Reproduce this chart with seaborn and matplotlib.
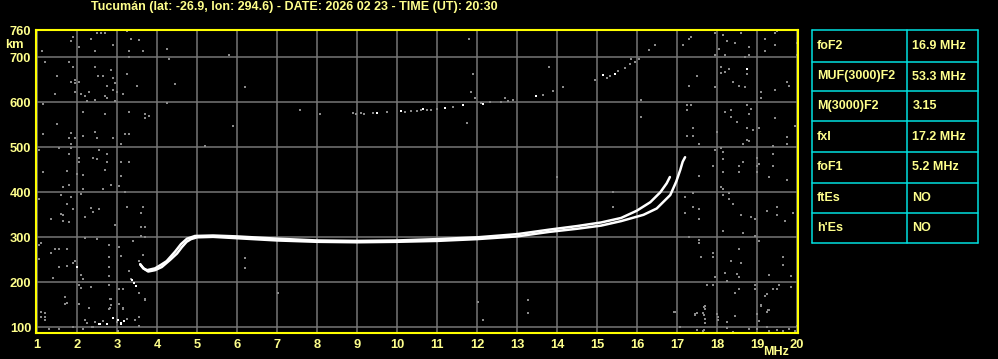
import matplotlib
matplotlib.use("Agg")
import matplotlib.pyplot as plt
import seaborn as sns
import pandas as pd

# ---------------- data ----------------
title = "Tucumán (lat: -26.9, lon: 294.6) - DATE: 2026 02 23 - TIME (UT): 20:30"
x_ticks = list(range(1, 21))
y_ticks = [100, 200, 300, 400, 500, 600, 700, 760]
grid_y = [100, 200, 300, 400, 500, 600, 700]

table_params = ["foF2", "MUF(3000)F2", "M(3000)F2", "fxI", "foF1", "ftEs", "h'Es"]
table_values = ["16.9 MHz", "53.3 MHz", "3.15", "17.2 MHz", "5.2 MHz", "NO", "NO"]

# ordinary trace
o_freq = [3.58, 3.66, 3.75, 3.95, 4.10, 4.24, 4.45, 4.60, 4.75, 4.95, 5.40, 6.00, 7.00, 8.00,
          9.00, 10.00, 11.00, 12.00, 13.00, 13.80, 14.50, 15.10, 15.60, 15.99, 16.33, 16.58,
          16.74, 16.82]
o_km = [240, 231, 227, 231, 239, 247, 268, 285, 297, 303, 304, 302, 297, 293,
        292, 293, 296, 300, 307, 317, 325, 333, 343, 359, 378, 400,
        420, 434]
# extraordinary trace
x_freq = [3.58, 3.66, 3.78, 3.95, 4.12, 4.33, 4.50, 4.62, 4.74, 4.85, 5.00, 5.40, 6.00, 7.00,
          8.00, 9.00, 10.00, 11.00, 12.00, 13.00, 13.80, 14.50, 15.10, 15.60, 16.16, 16.49,
          16.83, 16.98, 17.08, 17.14, 17.20]
x_km = [240, 231, 224, 227, 234, 250, 264, 278, 290, 296, 300, 301, 298, 293,
        290, 289, 290, 292, 296, 302, 312, 319, 326, 336, 350, 364,
        394, 424, 450, 468, 478]

# bright echo dots
white_freq = [2.56, 2.74, 2.89, 3.02, 3.18, 3.10, 3.38, 3.43, 3.48, 1.99, 9.51, 10.09, 10.66,
              11.20, 11.66, 12.14, 13.48, 15.14, 15.45, 18.74, 2.58, 3.09]
white_km = [107, 107, 121, 116, 115, 109, 205, 198, 192, 235, 576, 581, 585,
            588, 593, 597, 615, 661, 664, 673, 107, 108]

# weak (grey) echo dots
grey_freq = [
    1.89, 1.85, 2.04, 2.35, 2.50, 2.60, 2.70, 2.91, 3.24, 3.35, 3.54, 1.13, 2.45, 3.30, 3.64,
    3.30, 1.19, 1.79, 1.89, 2.45, 2.84, 1.50, 2.52, 2.64, 3.24, 1.85, 1.95, 2.04, 1.95, 2.89,
    2.94, 2.74, 2.89, 2.99, 3.49, 1.44, 1.95, 2.10, 2.20, 2.29, 2.45, 2.24, 2.70, 2.74, 2.94,
    3.14, 1.14, 2.14, 2.70, 3.30, 3.69, 3.79, 3.69, 1.50, 1.85, 1.14, 1.79, 1.95, 2.14, 2.45,
    2.50, 2.89, 3.20, 3.30, 3.10, 1.85, 1.04, 1.54, 1.85, 2.54, 1.79, 2.74, 2.04, 2.04, 2.39,
    2.50, 2.74, 3.10, 3.30, 2.70, 1.74, 1.14, 2.14, 1.99, 3.10,
    1.64, 1.79, 2.14, 2.64, 2.84, 3.04, 3.19, 1.60, 1.85, 2.10, 1.04, 1.74, 1.89, 2.35, 2.54,
    1.60, 1.64, 2.20, 2.39, 1.35, 1.64, 1.79, 2.94, 3.24, 3.64, 3.60, 3.60, 3.70, 3.60, 3.70,
    2.20, 2.50, 3.39, 1.10, 1.04, 1.44, 1.54, 1.35, 1.74, 1.95, 1.89, 2.81, 3.04, 3.10, 2.79,
    3.64, 3.54, 1.04, 1.54, 1.74, 2.79, 3.29, 2.10, 2.14, 1.39, 3.35, 2.79, 2.04, 2.09, 2.35,
    2.79, 3.04, 3.14, 3.54, 1.70, 2.84, 3.69, 1.74, 2.04, 2.29, 2.79, 3.14, 1.10, 1.10, 1.20,
    1.20, 1.20, 2.84, 2.20, 2.44, 2.64, 2.99, 3.24, 3.44, 3.55, 1.31, 1.54, 1.89, 2.14, 2.39,
    3.02, 1.09, 1.70, 2.05, 2.31, 2.25, 2.37, 3.45, 3.55, 3.54, 2.82, 2.82, 3.04, 3.14, 3.70,
    17.14, 17.34, 17.29, 17.95, 18.14, 18.24, 18.44, 18.59, 18.79, 18.04, 17.95, 18.20, 18.70,
    18.79, 19.20, 19.45, 19.49, 19.45, 19.20, 19.99, 19.99, 18.09, 18.09, 18.20, 18.29, 18.74,
    17.49, 17.29, 17.95, 18.39, 18.54, 18.70, 19.09, 19.45, 19.74, 19.79, 19.09, 17.24, 17.34,
    17.24, 18.20, 18.34, 18.34, 18.49, 18.74, 18.84, 18.79, 19.45, 19.95, 17.39, 17.24, 17.39,
    17.99, 18.74, 18.89, 19.04, 18.74, 18.79, 18.66, 19.74, 19.74, 17.54, 17.95, 18.09, 18.14,
    19.39, 19.39, 18.99, 19.04, 18.99, 18.64, 18.54, 18.14, 18.14, 17.89, 17.54, 18.54, 18.99,
    19.29, 19.39, 19.74,
    18.10, 18.14, 18.14, 18.29, 18.30, 18.39, 17.39, 17.20, 17.39, 17.54, 17.20, 17.54, 18.59,
    18.84, 18.94, 19.24, 19.49, 19.49, 19.70, 19.91, 18.14, 18.64, 18.94, 19.04, 17.29, 17.54,
    17.54, 17.89, 17.89, 17.59, 18.54, 18.34, 18.59, 18.54, 18.49, 18.19, 18.24, 17.95, 17.74,
    17.89, 18.94, 18.94, 18.54, 18.44, 19.29, 19.64, 19.64, 19.84, 19.84, 19.54, 19.39, 19.49,
    19.24, 19.20, 19.09, 19.29, 19.24, 16.95, 17.49, 17.45, 17.69, 17.69, 17.69, 17.69, 17.64,
    17.99, 18.03, 18.24, 18.44, 18.99, 19.04, 18.99, 18.79, 19.24, 19.29, 19.49, 19.64, 19.79,
    19.99, 19.95, 17.49, 17.66, 17.08, 18.24, 18.41, 16.93, 17.45, 17.68, 17.68, 17.99, 18.03,
    18.24, 18.45, 19.09, 19.28, 17.68,
    4.24, 4.29, 4.45, 4.24, 5.80, 6.20, 5.89, 11.79, 11.89, 11.84, 11.94, 11.74, 13.79, 13.89,
    16.09, 16.09, 16.29, 16.44, 6.20, 6.20, 7.03, 2.95, 13.99, 15.39, 15.39, 13.28, 13.28,
    12.03, 12.14, 5.20,
    7.58, 8.08, 8.98, 9.18, 9.41, 9.74, 10.20, 10.34, 10.49, 10.74, 10.84, 10.99, 11.39, 12.09,
    12.33, 12.59, 12.70, 12.78, 12.89, 13.64, 14.16, 14.95, 15.24, 15.33, 15.53, 15.70, 15.83,
    15.95, 15.84, 16.04, 8.90, 9.10, 10.60,
]
grey_km = [
    746, 737, 724, 741, 754, 754, 754, 728, 758, 741, 739, 715, 714, 714, 714,
    701, 690, 690, 678, 679, 672, 659, 659, 659, 664, 646, 650, 646, 642, 654,
    642, 637, 627, 624, 637, 618, 624, 618, 615, 624, 606, 603, 615, 610, 603,
    618, 596, 579, 574, 579, 574, 570, 565, 552, 532, 530, 521, 521, 526, 534,
    521, 521, 530, 530, 507, 507, 493, 499, 499, 494, 485, 485, 477, 468, 477,
    474, 468, 468, 468, 450, 448, 446, 439, 441, 436,
    412, 417, 408, 408, 417, 415, 401, 394, 390, 396, 386, 373, 364, 365, 364,
    352, 350, 346, 356, 341, 337, 333, 328, 368, 368, 355, 324, 324, 303, 300,
    299, 297, 292, 288, 283, 275, 275, 266, 275, 248, 244, 284, 279, 259, 257,
    261, 248, 252, 235, 236, 235, 226, 217, 208, 210, 208, 213, 195, 187, 189,
    195, 186, 186, 177, 168, 164, 164, 153, 152, 143, 141, 141, 135, 122, 131,
    124, 116, 149, 116, 112, 114, 112, 118, 116, 122, 97, 97, 101, 97, 101,
    92, 135, 152, 152, 144, 110, 101, 116, 122, 103, 143, 162, 152, 143, 161,
    727, 745, 741, 754, 750, 736, 732, 754, 723, 718, 705, 705, 701,
    705, 741, 754, 758, 727, 714, 732, 705, 678, 665, 668, 673, 664,
    659, 637, 634, 646, 637, 633, 624, 628, 646, 637, 610, 593, 593,
    584, 579, 584, 567, 557, 593, 585, 575, 566, 548, 544, 526, 526,
    535, 544, 539, 544, 517, 513, 508, 523, 508, 508, 495, 498, 490,
    502, 486, 477, 464, 459, 467, 459, 473, 446, 459, 437, 446, 446,
    433, 459, 428,
    412, 408, 395, 398, 386, 373, 398, 390, 368, 364, 355, 341, 350,
    346, 341, 359, 368, 350, 337, 355, 315, 310, 303, 292, 301, 295,
    288, 266, 257, 257, 275, 248, 242, 211, 218, 221, 204, 212, 195,
    195, 195, 186, 186, 177, 217, 257, 239, 215, 190, 195, 186, 186,
    173, 170, 149, 138, 134, 134, 132, 127, 147, 140, 119, 109, 131,
    130, 116, 112, 125, 130, 115, 96, 97, 101, 92, 94, 92, 97,
    104, 92, 94, 92, 100, 98, 89, 135, 130, 146, 127, 130, 124,
    112, 126, 148, 138, 94,
    718, 696, 641, 598, 706, 633, 548, 741, 664, 624, 610, 553, 678, 625,
    606, 567, 717, 727, 253, 231, 177, 327, 433, 401, 368, 161, 131,
    157, 116, 502,
    584, 575, 575, 575, 576, 579, 579, 581, 581, 584, 584, 585, 590, 598,
    601, 601, 610, 604, 606, 616, 633, 650, 655, 659, 670, 677, 686,
    690, 696, 696, 577, 576, 583,
]

# ---------------- style ----------------
sns.set_theme(style="dark")
plt.rcParams["font.family"] = ["Liberation Sans", "DejaVu Sans"]
plt.rcParams["font.weight"] = "bold"

BG = "black"
TXT = "#ffff8c"
FRAME = "#ffff00"
GRID = "#767676"
NOISE = "#8a8a8a"
CYAN = "#00e0e0"

W, H = 998, 359
fig = plt.figure(figsize=(W / 100, H / 100), dpi=100, facecolor=BG)
ax = fig.add_axes([35.7 / W, (H - 333.3) / H, (798.3 - 35.7) / W, (333.3 - 29.5) / H])
ax.set_facecolor(BG)

for v in x_ticks:
    ax.axvline(v, color=GRID, lw=1.1, zorder=1)
for v in grid_y:
    ax.axhline(v, color=GRID, lw=1.1, zorder=1)

noise_df = pd.DataFrame({"f": grey_freq, "h": grey_km})
sns.scatterplot(data=noise_df, x="f", y="h", ax=ax, marker="s", s=4.2,
                color=NOISE, linewidth=0, zorder=2)

o_df = pd.DataFrame({"f": o_freq, "h": o_km})
x_df = pd.DataFrame({"f": x_freq, "h": x_km})
sns.lineplot(data=x_df, x="f", y="h", ax=ax, sort=False, estimator=None,
             color="white", lw=1.8, zorder=3)
sns.lineplot(data=o_df, x="f", y="h", ax=ax, sort=False, estimator=None,
             color="white", lw=1.8, zorder=3)

white_df = pd.DataFrame({"f": white_freq, "h": white_km})
sns.scatterplot(data=white_df, x="f", y="h", ax=ax, marker="s", s=4.5,
                color="white", linewidth=0, zorder=3)

ax.set_xlim(0.9675, 20.03)
ax.set_ylim(86.7, 761.8)
ax.grid(False)
ax.set_xlabel("")
ax.set_ylabel("")
ax.set_xticks(x_ticks)
ax.set_xticklabels([str(v) for v in x_ticks])
ax.set_yticks(y_ticks)
ax.set_yticklabels([str(v) for v in y_ticks])
ax.tick_params(axis="both", length=0, labelcolor=TXT, labelsize=9.3)
ax.tick_params(axis="x", pad=4.4)
ax.tick_params(axis="y", pad=3.2)
for lab in ax.get_xticklabels() + ax.get_yticklabels():
    lab.set_fontweight("bold")
for sp in ax.spines.values():
    sp.set_visible(True)
    sp.set_color(FRAME)
    sp.set_linewidth(1.5)

# labels
fig.text(91 / W, (H - 7) / H, title, color=TXT, fontsize=9.0, fontweight="bold",
         ha="left", va="center")
fig.text(5 / W, (H - 45.5) / H, "km", color=TXT, fontsize=9.3, fontweight="bold",
         ha="left", va="center")
fig.text(789 / W, (H - 352) / H, "MHz", color=TXT, fontsize=9.0, fontweight="bold",
         ha="right", va="center")

# parameter table
tx0, tx1, tdiv = 812, 978, 907
row_edges = [30.3, 61.7, 91.3, 121.3, 151.7, 182.7, 212.7, 242.7]
tab = fig.add_axes([0, 0, 1, 1], facecolor="none")
tab.set_xlim(0, W)
tab.set_ylim(H, 0)
tab.axis("off")
for yy in row_edges:
    tab.plot([tx0, tx1], [yy, yy], color=CYAN, lw=1.1)
for xx in (tx0, tdiv, tx1):
    tab.plot([xx, xx], [row_edges[0], row_edges[-1]], color=CYAN, lw=1.1)
for i, (p, v) in enumerate(zip(table_params, table_values)):
    yc = (row_edges[i] + row_edges[i + 1]) / 2
    tab.text(817, yc, p, color=TXT, fontsize=9, fontweight="bold", ha="left", va="center")
    tab.text(912.5, yc, v, color=TXT, fontsize=9, fontweight="bold", ha="left", va="center")

fig.savefig("out.png", dpi=100, facecolor=BG)
